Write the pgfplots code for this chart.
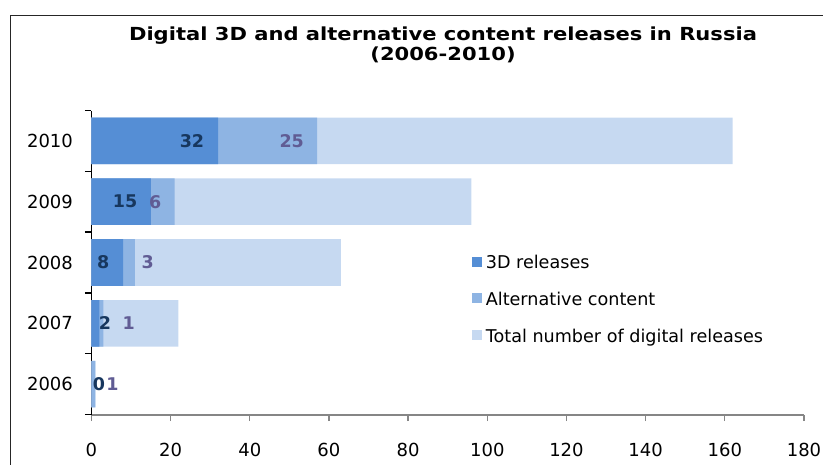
\documentclass[border=0pt]{standalone}
\usepackage{pgfplots}
\pgfplotsset{compat=1.18}
\usepackage{pgfplotstable}
\usepackage{fontspec}
\setmainfont{DejaVu Sans}
\newfontfamily\titlefont{DejaVu Sans}[FakeStretch=1.17]
\definecolor{c3d}{RGB}{85,142,213}
\definecolor{calt}{RGB}{142,180,227}
\definecolor{ctot}{RGB}{198,217,241}
\definecolor{lab3d}{RGB}{23,55,94}
\definecolor{labalt}{RGB}{96,92,148}
\definecolor{axisgray}{RGB}{134,134,134}
\newcommand{\tickfont}{\fontsize{18bp}{21bp}\selectfont}
\newcommand{\lblfont}{\fontsize{17.5bp}{21bp}\selectfont\bfseries}
\newcommand{\legfont}{\fontsize{17.6bp}{20bp}\selectfont}
% y: category index; d3: 3D releases; alt: alternative content; total: total digital releases
% l3dx / laltx: horizontal position of the value labels
\pgfplotstableread{
y year d3 alt total l3dx laltx
0 2006 0 1 1 1.9 5.3
1 2007 2 1 22 3.4 9.4
2 2008 8 3 63 3.0 14.2
3 2009 15 6 96 8.5 16.1
4 2010 32 25 162 25.4 50.6
}\data
\begin{document}
\begin{tikzpicture}
\useasboundingbox (0bp,0bp) rectangle (823bp,-465bp);
\draw[line width=1.2bp, black!85] (10.5bp,-15.5bp) rectangle (1000bp,-1000bp);
\node[font=\titlefont\fontsize{18bp}{20.6bp}\selectfont\bfseries, align=center] at (443bp,-45bp) {Digital 3D and alternative content releases in Russia\\(2006-2010)};
\begin{axis}[
  at={(91.4bp,-414.5bp)}, anchor=south west,
  scale only axis, width=712.6bp, height=304bp,
  xmin=0, xmax=180, ymin=-0.5, ymax=4.5,
  axis lines*=left,
  x axis line style={draw=axisgray, line width=2bp},
  y axis line style={draw=black, line width=1.3bp},
  xtick={0,20,...,180},
  ytick={-0.5,0.5,...,4.5}, yticklabels={},
  extra y ticks={0,1,2,3,4},
  extra y tick labels={2006,2007,2008,2009,2010},
  extra y tick style={major tick length=0pt},
  tick align=outside,
  major tick length=6.5bp,
  xtick style={draw=axisgray, line width=1.3bp},
  ytick style={draw=black, line width=1.3bp},
  tick label style={font=\tickfont},
  /pgf/number format/assume math mode=true,
  yticklabel style={anchor=east, xshift=-15bp},
  xticklabel style={anchor=north, yshift=-19bp},
  legend cell align=left,
  legend style={draw=none, fill=none, at={(rel axis cs:0.5337,0.5204)}, anchor=north west,
    inner sep=0pt, row sep=20.5bp, font=\legfont,
    nodes={inner sep=0pt, text height=12bp, text depth=4bp},
    /tikz/every odd column/.append style={column sep=4.5bp}},
]
\addlegendimage{legend image code/.code={\fill[c3d] (0bp,-1bp) rectangle (9bp,8bp);}}
\addlegendentry{3D releases}
\addlegendimage{legend image code/.code={\fill[calt] (0bp,-1bp) rectangle (9bp,8bp);}}
\addlegendentry{Alternative content}
\addlegendimage{legend image code/.code={\fill[ctot] (0bp,-1bp) rectangle (9bp,8bp);}}
\addlegendentry{Total number of digital releases}
\addplot[xbar, bar width=0.766, bar shift=0pt, fill=ctot, draw=none, forget plot] table[x=total, y=y] {\data};
\addplot[xbar, bar width=0.766, bar shift=0pt, fill=calt, draw=none, forget plot] table[x expr=\thisrow{d3}+\thisrow{alt}, y=y] {\data};
\addplot[xbar, bar width=0.766, bar shift=0pt, fill=c3d, draw=none, forget plot] table[x=d3, y=y] {\data};
\addplot[draw=none, mark=none, forget plot, nodes near coords, point meta=explicit symbolic,
  nodes near coords style={anchor=center, font=\lblfont, text=lab3d}] table[x=l3dx, y=y, meta=d3] {\data};
\addplot[draw=none, mark=none, forget plot, nodes near coords, point meta=explicit symbolic,
  nodes near coords style={anchor=center, font=\lblfont, text=labalt}] table[x=laltx, y=y, meta=alt] {\data};
\end{axis}
\end{tikzpicture}
\end{document}
